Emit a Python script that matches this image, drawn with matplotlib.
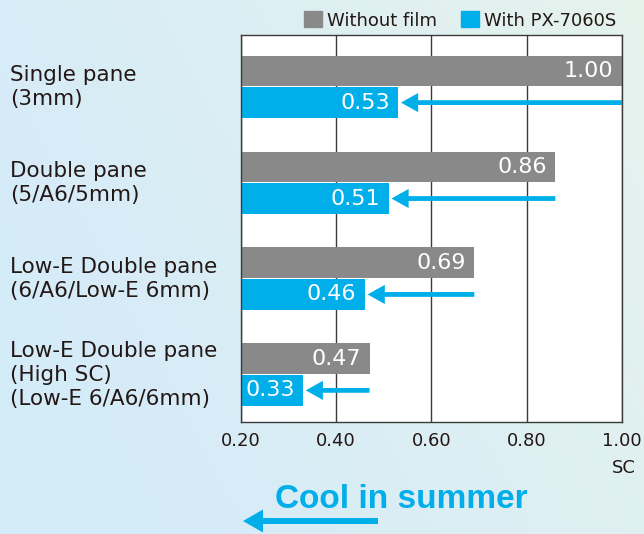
import numpy as np
import matplotlib
matplotlib.use("Agg")
import matplotlib.pyplot as plt
import matplotlib.transforms as mtransforms
from matplotlib.patches import Patch, FancyArrow

categories = ["Single pane\n(3mm)",
              "Double pane\n(5/A6/5mm)",
              "Low-E Double pane\n(6/A6/Low-E 6mm)",
              "Low-E Double pane\n(High SC)\n(Low-E 6/A6/6mm)"]
without_film = [1.00, 0.86, 0.69, 0.47]
with_film = [0.53, 0.51, 0.46, 0.33]
x_ticks = [0.20, 0.40, 0.60, 0.80, 1.00]

GRAY = '#898989'
BLUE = '#00aeea'
TEXT = '#231815'

plt.rcParams['font.family'] = ['DejaVu Sans']

fig = plt.figure(figsize=(6.44, 5.34), dpi=100)

# soft gradient background
bg = fig.add_axes([0, 0, 1, 1], zorder=-10)
gx, gy = np.meshgrid(np.linspace(0, 1, 200), np.linspace(0, 1, 200))
t = np.clip(0.8 * gx + 0.35 * (1 - gy) - 0.2, 0, 1)[..., None]
c0 = np.array([0.835, 0.922, 0.976])
c1 = np.array([0.905, 0.955, 0.925])
bg.imshow(c0 * (1 - t) + c1 * t, aspect='auto', extent=[0, 1, 0, 1], origin='upper')
bg.axis('off')

ax = fig.add_axes([0.3742, 0.2097, 0.5916, 0.7248])
ax.set_facecolor('white')

y = np.arange(len(categories))
bh = 0.32
off = 0.33
ax.barh(y, without_film, height=bh, color=GRAY, zorder=2)
ax.barh(y + off, with_film, height=bh, color=BLUE, zorder=2)

for i in range(len(categories)):
    ax.annotate(f"{without_film[i]:.2f}", xy=(without_film[i], y[i]), xytext=(-6, 0),
                textcoords='offset points', ha='right', va='center',
                color='white', fontsize=16, zorder=4)
    ax.annotate(f"{with_film[i]:.2f}", xy=(with_film[i], y[i] + off), xytext=(-6, 0),
                textcoords='offset points', ha='right', va='center',
                color='white', fontsize=16, zorder=4)
    tip = with_film[i] + 0.006
    ax.arrow(without_film[i], y[i] + off, tip - without_film[i], 0,
             width=0.05, head_width=0.2, head_length=0.036,
             length_includes_head=True, color=BLUE, lw=0, zorder=3, clip_on=False)

ax.set_xlim(0.2, 1.0)
ax.set_ylim(3.66, -0.375)
ax.set_yticks([])
ax.set_xticks(x_ticks)
ax.set_xticklabels([f"{v:.2f}" for v in x_ticks], fontsize=13, color=TEXT)
ax.tick_params(axis='x', length=0, pad=7)
ax.grid(axis='x', color='#3a3a3a', lw=1)
ax.set_axisbelow(True)
for s in ax.spines.values():
    s.set_color('#3a3a3a')
    s.set_linewidth(1)

# category labels on the left
trans = mtransforms.blended_transform_factory(fig.transFigure, ax.transData)
for i, lab in enumerate(categories):
    ax.text(10 / 644, y[i] + off / 2, lab, transform=trans, ha='left', va='center',
            fontsize=15.5, color=TEXT, linespacing=1.25)

fig.text(624 / 644, 1 - 468 / 534, 'SC', ha='center', va='center', fontsize=13, color=TEXT)

handles = [Patch(color=GRAY, label='Without film'), Patch(color=BLUE, label='With PX-7060S')]
ax.legend(handles=handles, loc='lower right', bbox_to_anchor=(1.0, 1.0), ncol=2,
          frameon=False, fontsize=13, handlelength=1.0, handleheight=1.0,
          handletextpad=0.3, columnspacing=1.3, borderpad=0, borderaxespad=0.3,
          labelcolor=TEXT)

fig.text(401 / 644, 1 - 500 / 534, 'Cool in summer', ha='center', va='center',
         fontsize=24, fontweight='bold', color=BLUE, family='Liberation Sans')
# big arrow under the caption, in figure pixels
fig.add_artist(FancyArrow(378, 13, 243 - 378, 0, width=6, head_width=23, head_length=20,
                          length_includes_head=True, color=BLUE, lw=0,
                          transform=mtransforms.IdentityTransform()))

fig.savefig('out.png', dpi=100)
